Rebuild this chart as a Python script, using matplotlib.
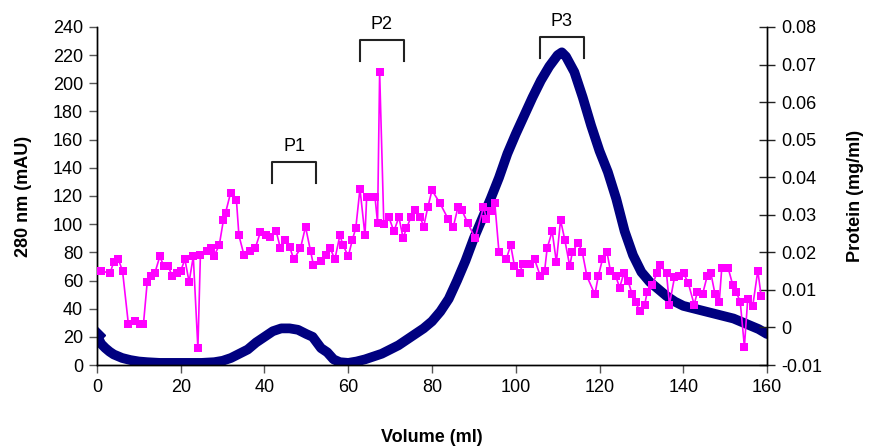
import matplotlib
matplotlib.use("Agg")
import matplotlib.pyplot as plt

plt.rcParams["font.family"] = ["Liberation Sans", "DejaVu Sans"]

# Absorbance at 280 nm (mAU) along the elution volume (ml)
vol_a280 = [0, 1, 2, 3, 4, 6, 8, 10, 12, 15, 20, 25, 28, 30, 32, 34, 36, 38, 40,
            42, 44, 46, 48, 50, 51.5, 52.5, 53.5, 55, 56.5, 58, 60, 62, 64, 66,
            68, 70, 72, 74, 76, 78, 80, 82, 84, 86, 88, 90, 92, 94, 96, 98, 100,
            102, 104, 106, 108, 110, 111, 112, 114, 116, 118, 120, 122, 124, 126,
            128, 130, 132, 134, 136, 138, 140, 144, 148, 152, 156, 158, 160]
a280 = [21, 15, 12, 9.5, 7.5, 5, 3.5, 2.5, 2, 1.5, 1.5, 1.5, 2, 3, 5, 8, 11, 16,
        20, 24, 26, 26, 25, 22, 20, 16, 12, 9, 4, 2, 1.5, 2.5, 4, 6, 8, 11, 14,
        18, 22, 26, 31, 38, 47, 60, 74, 90, 104, 118, 133, 150, 164, 177, 190,
        202, 212, 220, 222, 219, 208, 190, 170, 152, 137, 118, 95, 78, 66, 59,
        54, 49, 45, 42, 39, 36, 33, 28, 25.5, 22]

# Protein concentration (mg/ml) of the collected fractions
vol_protein = [1, 3.1, 4, 5.1, 6.1, 7.5, 9.1, 10.3, 11.1, 12, 13, 13.8, 15, 16,
               17, 18, 19, 20, 21, 22, 23, 24.1, 24.7, 26.2, 27.2, 27.9, 29.2,
               30.2, 30.7, 31.9, 33.3, 33.9, 35.1, 36.5, 37.8, 39, 40.3, 41.4,
               42.8, 43.8, 45, 46, 47, 48.6, 49.8, 51, 51.7, 53.6, 54.8, 55.7,
               56.8, 58, 58.8, 60, 61, 61.8, 62.8, 64, 64.4, 65.6, 66.4, 67,
               67.5, 68.5, 69.7, 70.9, 72.1, 73.1, 73.9, 75, 76, 77.2, 78, 79,
               80, 81.9, 83.8, 85.1, 86.2, 87.1, 88.5, 90.3, 92.3, 93, 94.1, 95,
               96, 97.7, 98.8, 99.7, 100.9, 101.7, 103.3, 104.5, 105.9, 106.9,
               107.5, 108.7, 109.7, 110.7, 111.7, 112.9, 113.5, 114.9, 115.9,
               117, 118.9, 119.7, 120.7, 121.8, 122.6, 123.9, 124.8, 125.8,
               126.8, 127.8, 128.6, 129.6, 130.8, 131.4, 132.6, 133.7, 134.5,
               136, 136.7, 137.9, 139.1, 140.1, 141.2, 142.6, 143.4, 144.6,
               145.7, 146.6, 147.6, 148.6, 149.2, 150.7, 151.8, 152.6, 153.6,
               154.6, 155.4, 156.6, 157.8, 158.6]
protein = [0.0151, 0.0144, 0.0174, 0.0181, 0.0151, 0.0009, 0.0016, 0.0009,
           0.0009, 0.0121, 0.0136, 0.0144, 0.0189, 0.0163, 0.0163, 0.0136,
           0.0144, 0.0151, 0.0181, 0.0121, 0.0189, -0.0055, 0.0193, 0.0204,
           0.0211, 0.0189, 0.0219, 0.0286, 0.0305, 0.0358, 0.0339, 0.0245,
           0.0193, 0.0204, 0.0211, 0.0253, 0.0245, 0.0241, 0.0256, 0.0211,
           0.0234, 0.0215, 0.0181, 0.0211, 0.0268, 0.0204, 0.0166, 0.0178,
           0.0193, 0.0211, 0.0181, 0.0245, 0.0219, 0.0189, 0.0234, 0.0264,
           0.0369, 0.0245, 0.0346, 0.0346, 0.0346, 0.0279, 0.0680, 0.0275,
           0.0294, 0.0256, 0.0294, 0.0238, 0.0264, 0.0294, 0.0313, 0.0294,
           0.0268, 0.0320, 0.0365, 0.0331, 0.0290, 0.0268, 0.0320, 0.0313,
           0.0279, 0.0238, 0.0320, 0.0290, 0.0309, 0.0331, 0.0200, 0.0181,
           0.0219, 0.0163, 0.0144, 0.0170, 0.0170, 0.0181, 0.0136, 0.0151,
           0.0211, 0.0256, 0.0174, 0.0286, 0.0234, 0.0163, 0.0200, 0.0226,
           0.0200, 0.0136, 0.0088, 0.0136, 0.0181, 0.0200, 0.0151, 0.0136,
           0.0106, 0.0144, 0.0125, 0.0088, 0.0069, 0.0043, 0.0061, 0.0095,
           0.0114, 0.0144, 0.0166, 0.0144, 0.0061, 0.0133, 0.0136, 0.0144,
           0.0118, 0.0061, 0.0095, 0.0088, 0.0136, 0.0144, 0.0088, 0.0069,
           0.0159, 0.0159, 0.0114, 0.0095, 0.0069, -0.0051, 0.0076, 0.0058,
           0.0151, 0.0084]

# Pooled peak fractions: name, start volume, end volume, bracket height (mAU)
peak_names = ["P1", "P2", "P3"]
peak_start = [41.8, 62.8, 105.7]
peak_end = [52.3, 73.3, 116.2]
peak_level = [144, 231, 233]

fig = plt.figure(figsize=(8.72, 4.46), dpi=100)
ax = fig.add_axes([0.1112, 0.1816, 0.7684, 0.7579])
ax2 = ax.twinx()

ax.plot(vol_a280, a280, color="#000080", lw=7, solid_capstyle="round",
        solid_joinstyle="round", zorder=2)
ax.plot(vol_a280[:1], a280[:1], marker="D", color="#000080", ms=8, zorder=2)

ax2.plot(vol_protein, protein, color="#FF00FF", lw=1.2, marker="s", ms=6,
         markeredgewidth=0, zorder=3)

ax.set_xlim(0, 160)
ax.set_ylim(0, 240)
ax.set_xticks(range(0, 161, 20))
ax.set_yticks(range(0, 241, 20))
ax2.set_ylim(-0.01, 0.08)
ax2.set_yticks([-0.01, 0, 0.01, 0.02, 0.03, 0.04, 0.05, 0.06, 0.07, 0.08])
ax2.set_yticklabels(["-0.01", "0", "0.01", "0.02", "0.03", "0.04", "0.05",
                     "0.06", "0.07", "0.08"])

for a in (ax, ax2):
    for s in a.spines.values():
        s.set_linewidth(1.0)
        s.set_color("black")
    a.spines["top"].set_visible(False)

ax.tick_params(axis="both", labelsize=13, direction="out", length=6,
               width=1, color="#555555", pad=4)
ax2.tick_params(axis="y", labelsize=13, direction="inout", length=12,
                width=1, color="#222222", pad=4)

ax.set_xlabel("Volume (ml)", fontsize=13, fontweight="bold", labelpad=24)
ax.set_ylabel("280 nm (mAU)", fontsize=13, fontweight="bold", labelpad=15)
ax2.set_ylabel("Protein (mg/ml)", fontsize=13, fontweight="bold", labelpad=18)

# Brackets marking the pooled peaks
for name, x0, x1, lvl in zip(peak_names, peak_start, peak_end, peak_level):
    leg = 15
    ax.plot([x0, x0, x1, x1], [lvl - leg, lvl, lvl, lvl - leg], color="#222222",
            lw=1.5, clip_on=False, zorder=4)
    ax.text((x0 + x1) / 2, lvl + 5, name, ha="center", va="bottom",
            fontsize=13, clip_on=False)

fig.savefig("out.png", dpi=100)
